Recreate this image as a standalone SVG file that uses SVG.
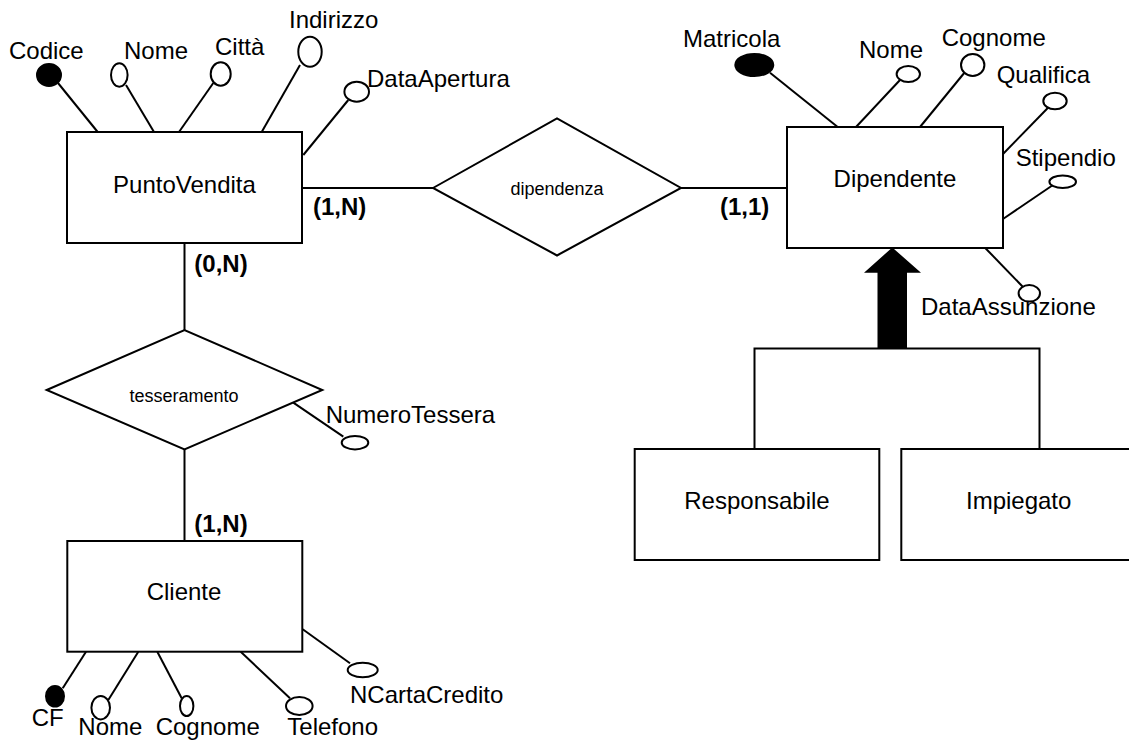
<svg xmlns="http://www.w3.org/2000/svg" width="1129" height="740" viewBox="0 0 1129 740">
<style>
text{font-family:"Liberation Sans",Arial,sans-serif;fill:#000}
.t{font-size:24px}
.s{font-size:18px}
.b{font-size:24px;font-weight:bold}
.m{text-anchor:middle}
.box{fill:#fff;stroke:#000;stroke-width:2}
.ln{stroke:#000;stroke-width:2;fill:none}
.att{fill:#fff;stroke:#000;stroke-width:2}
.key{fill:#000;stroke:#000;stroke-width:2}
</style>
<rect width="1129" height="740" fill="#fff"/>
<g id="connectors">
<line class="ln" x1="302" y1="188" x2="433" y2="188"/>
<line class="ln" x1="681" y1="188" x2="787" y2="188"/>
<line class="ln" x1="184.5" y1="243" x2="184.5" y2="330"/>
<line class="ln" x1="184.5" y1="449" x2="184.5" y2="541"/>
<polyline class="ln" points="754.5,449 754.5,348.5 1039.5,348.5 1039.5,449"/>
<polygon points="892.3,247.5 921,272.7 907,272.7 907,349 877.5,349 877.5,272.7 864,272.7" fill="#000"/>
<line class="ln" x1="58" y1="83" x2="97.7" y2="132"/>
<line class="ln" x1="126" y1="85" x2="154" y2="132"/>
<line class="ln" x1="213.3" y1="83" x2="179" y2="132"/>
<line class="ln" x1="300" y1="65" x2="261.7" y2="132"/>
<line class="ln" x1="348.3" y1="100" x2="303.3" y2="155"/>
<line class="ln" x1="770" y1="72.7" x2="837.7" y2="127"/>
<line class="ln" x1="900" y1="80" x2="856" y2="127"/>
<line class="ln" x1="965" y1="72" x2="920" y2="127"/>
<line class="ln" x1="1049" y1="106.7" x2="1003" y2="154"/>
<line class="ln" x1="1053" y1="185" x2="1003" y2="219"/>
<line class="ln" x1="985" y1="247.7" x2="1023" y2="287"/>
<line class="ln" x1="293.3" y1="402.7" x2="343.3" y2="436.7"/>
<line class="ln" x1="62.7" y1="688.3" x2="86" y2="651.7"/>
<line class="ln" x1="108.3" y1="700" x2="138.3" y2="651.7"/>
<line class="ln" x1="181.7" y1="698.3" x2="157.3" y2="651.7"/>
<line class="ln" x1="290" y1="698.3" x2="240.7" y2="651.7"/>
<line class="ln" x1="350" y1="663.3" x2="302.7" y2="629.3"/>
</g>
<g id="PuntoVendita">
<rect class="box" x="67" y="132" width="235" height="111"/>
<text class="t m" x="184.5" y="193">PuntoVendita</text>
</g>
<g id="PV_Codice"><ellipse class="key" cx="49" cy="75" rx="12" ry="11"/><text class="t" x="9" y="59">Codice</text></g>
<g id="PV_Nome"><ellipse class="att" cx="119.3" cy="75" rx="8.3" ry="11.7"/><text class="t" x="124" y="59">Nome</text></g>
<g id="PV_Citta"><ellipse class="att" cx="220.7" cy="74" rx="10" ry="11.7"/><text class="t" x="215" y="55">Città</text></g>
<g id="PV_Indirizzo"><ellipse class="att" cx="310" cy="51.7" rx="11.7" ry="15"/><text class="t" x="289" y="28.3">Indirizzo</text></g>
<g id="PV_DataApertura"><ellipse class="att" cx="356.7" cy="91.7" rx="12.3" ry="10"/><text class="t" x="367" y="86.7">DataApertura</text></g>
<g id="dipendenza">
<polygon class="box" points="433,188 557,118.5 681,188 557,255.5"/>
<text class="s m" x="557" y="195">dipendenza</text>
</g>
<text class="b" x="313" y="215">(1,N)</text>
<text class="b" x="720" y="215">(1,1)</text>
<g id="Dipendente">
<rect class="box" x="787" y="127" width="216" height="121"/>
<text class="t m" x="895" y="187">Dipendente</text>
</g>
<g id="D_Matricola"><ellipse class="key" cx="754.3" cy="65" rx="19" ry="11"/><text class="t" x="683" y="46.7">Matricola</text></g>
<g id="D_Nome"><ellipse class="att" cx="908.3" cy="74" rx="11.7" ry="8"/><text class="t" x="859" y="58">Nome</text></g>
<g id="D_Cognome"><ellipse class="att" cx="972.7" cy="65" rx="11.7" ry="11"/><text class="t" x="941.7" y="45.7">Cognome</text></g>
<g id="D_Qualifica"><ellipse class="att" cx="1055" cy="101" rx="11.7" ry="8.3"/><text class="t" x="996.7" y="83">Qualifica</text></g>
<g id="D_Stipendio"><ellipse class="att" cx="1062.7" cy="181.7" rx="13.3" ry="6.3"/><text class="t" x="1015.7" y="165.7">Stipendio</text></g>
<g id="D_DataAssunzione"><ellipse class="att" cx="1029.3" cy="293.3" rx="10.7" ry="8.3"/><text class="t" x="921" y="315">DataAssunzione</text></g>
<g id="Responsabile">
<rect class="box" x="634.7" y="449" width="244.6" height="111"/>
<text class="t m" x="757" y="509">Responsabile</text>
</g>
<g id="Impiegato">
<rect class="box" x="901.3" y="449" width="236" height="111"/>
<text class="t m" x="1018.7" y="509">Impiegato</text>
</g>
<g id="tesseramento">
<polygon class="box" points="46.7,390 184.5,330 322.3,390 184.5,449.3"/>
<text class="s m" x="184" y="401.7">tesseramento</text>
</g>
<text class="b" x="194.3" y="271.7">(0,N)</text>
<g id="T_NumeroTessera"><ellipse class="att" cx="355" cy="442.7" rx="13.3" ry="6.7"/><text class="t" x="325.7" y="423.3">NumeroTessera</text></g>
<text class="b" x="194.3" y="531.7">(1,N)</text>
<g id="Cliente">
<rect class="box" x="67.3" y="541" width="235" height="110.7"/>
<text class="t m" x="184" y="600">Cliente</text>
</g>
<g id="C_CF"><ellipse class="key" cx="55" cy="696.3" rx="9" ry="10.3"/><text class="t" x="31.7" y="726">CF</text></g>
<g id="C_Nome"><ellipse class="att" cx="100.7" cy="707.7" rx="9.3" ry="11.7"/><text class="t" x="78.3" y="735">Nome</text></g>
<g id="C_Cognome"><ellipse class="att" cx="186.7" cy="706" rx="6.7" ry="10"/><text class="t" x="155.7" y="735">Cognome</text></g>
<g id="C_Telefono"><ellipse class="att" cx="299.3" cy="706" rx="13.3" ry="9"/><text class="t" x="287.3" y="735">Telefono</text></g>
<g id="C_NCartaCredito"><ellipse class="att" cx="362.7" cy="670" rx="15" ry="7.3"/><text class="t" x="350" y="703.3">NCartaCredito</text></g>
</svg>
